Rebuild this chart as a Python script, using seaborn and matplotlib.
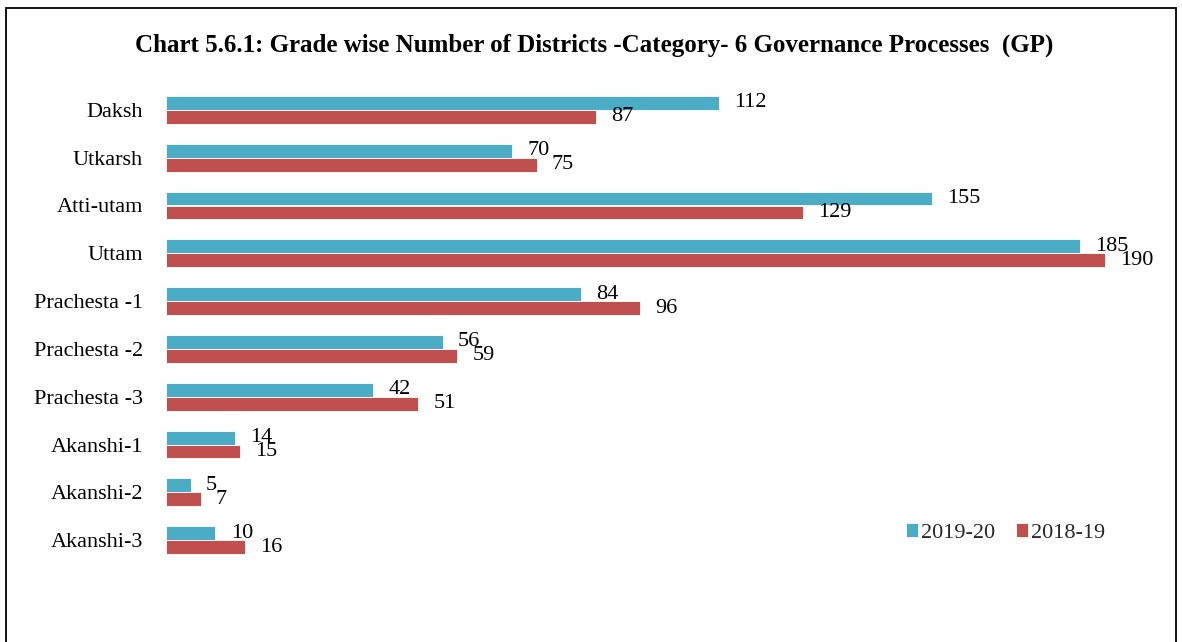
import matplotlib
matplotlib.use("Agg")
import matplotlib.pyplot as plt
import seaborn as sns
import pandas as pd
from matplotlib.patches import Rectangle

categories = ["Daksh", "Utkarsh", "Atti-utam", "Uttam", "Prachesta -1",
              "Prachesta -2", "Prachesta -3", "Akanshi-1", "Akanshi-2", "Akanshi-3"]
values_2019_20 = [112, 70, 155, 185, 84, 56, 42, 14, 5, 10]
values_2018_19 = [87, 75, 129, 190, 96, 59, 51, 15, 7, 16]
series = ["2019-20", "2018-19"]
colors = ["#4BACC6", "#C0504D"]
title = "Chart 5.6.1: Grade wise Number of Districts -Category- 6 Governance Processes  (GP)"

df = pd.DataFrame({
    "Grade": categories * 2,
    "Year": [series[0]] * len(categories) + [series[1]] * len(categories),
    "Count": values_2019_20 + values_2018_19,
})

sns.set_theme(style="white")
plt.rcParams["font.family"] = ["Liberation Serif", "DejaVu Serif"]

W, H = 1182, 642
fig = plt.figure(figsize=(W / 100, H / 100), dpi=100)
ax = fig.add_axes([166 / W, 1 - 564 / H, (1154 - 166) / W, (564 - 86) / H])

sns.barplot(data=df, y="Grade", x="Count", hue="Year", order=categories,
            hue_order=series, palette=colors, orient="h", width=0.58,
            ax=ax, saturation=1, edgecolor="white", linewidth=0.6)

for cont in ax.containers:
    ax.bar_label(cont, padding=11, fontsize=16, color="black")

ax.set_xlim(0, 200)
ax.set_ylim(9.5, -0.5)
ax.set_xlabel("")
ax.set_ylabel("")
ax.set_xticks([])
ax.tick_params(axis="y", length=0, labelsize=16, pad=16.5, colors="black")
for s in ax.spines.values():
    s.set_visible(False)

leg = ax.legend(loc="center left", bbox_to_anchor=((897 - 166) / (1154 - 166), (564 - 533) / (564 - 86)),
                ncol=2, frameon=False, fontsize=16, handlelength=0.55, handleheight=0.55,
                handletextpad=0.15, columnspacing=0.9, borderaxespad=0)

fig.text(594 / W, 1 - 45 / H, title, ha="center", va="center", fontsize=18,
         fontweight="bold", color="black")

fig.patches.append(Rectangle((6 / W, -0.05), (1176 - 6) / W, 1.05 - 8 / H,
                             transform=fig.transFigure, fill=False,
                             edgecolor="black", linewidth=1.3))

fig.savefig("out.png", dpi=100)
